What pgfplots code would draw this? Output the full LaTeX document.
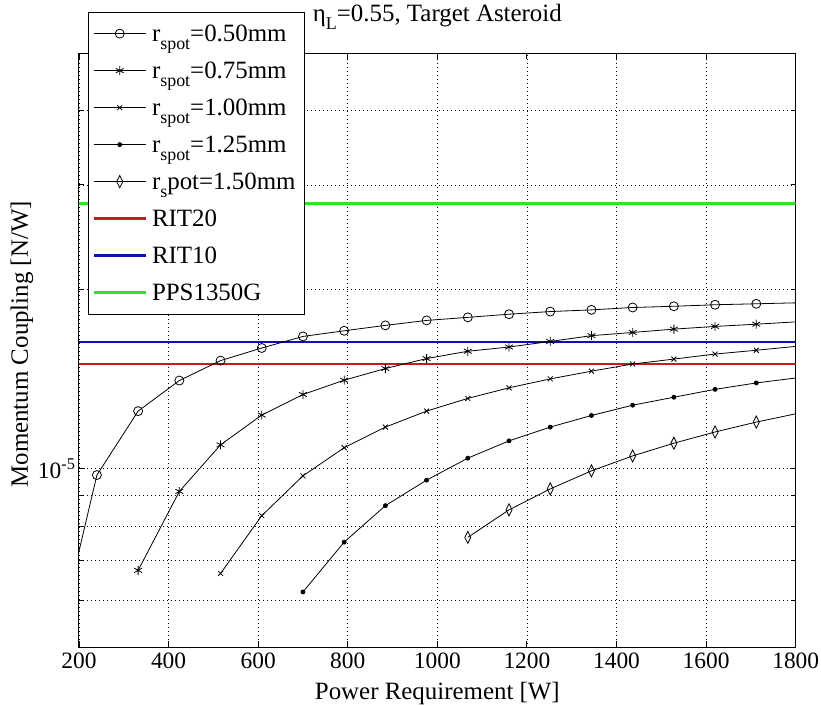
\documentclass[border=0pt]{standalone}
\usepackage{pgfplots}
\pgfplotsset{compat=1.18}
\usepackage{fontspec}
\setmainfont{Liberation Serif}

\definecolor{ritred}{RGB}{195,30,30}
\definecolor{ritblue}{RGB}{15,15,175}
\definecolor{ppsgreen}{RGB}{45,225,45}

% low-set subscript
\newcommand{\sub}[1]{\raisebox{-8bp}{\fontsize{18}{20}\selectfont #1}}

\begin{document}
\begin{tikzpicture}
\path[use as bounding box] (-79bp,-58.6bp) rectangle (742bp,647.4bp);
\begin{axis}[
  scale only axis, width=716.7bp, height=594.4bp,
  xmin=200, xmax=1800,
  ymode=log, ymin=5e-6, ymax=5e-5,
  xtick={200,400,...,1800},
  ytick={1e-5}, yticklabels={10\textsuperscript{-5}},
  minor ytick={6e-6,7e-6,8e-6,9e-6,2e-5,3e-5,4e-5},
  grid=both,
  major grid style={black, line width=0.7bp, dash pattern=on 0.8bp off 3.2bp},
  minor grid style={black, line width=0.7bp, dash pattern=on 0.8bp off 3.2bp},
  axis line style={line width=1bp},
  every tick/.style={black, line width=0.9bp},
  major tick length=6bp, minor tick length=5bp,
  tick align=inside, xtick pos=both, ytick pos=both,
  ticklabel style={font=\fontsize{23.5}{28}\selectfont},
  xticklabel style={yshift=-2bp},
  /pgf/number format/assume math mode=true,
  /pgf/number format/1000 sep={},
  label style={font=\fontsize{25}{30}\selectfont},
  xlabel={Power Requirement [W]},
  ylabel={Momentum Coupling [N/W]},
  xlabel style={at={([yshift=-51.6bp]axis description cs:0.5,0)}, anchor=base},
  ylabel style={at={([xshift=-51bp]axis description cs:0,0.51)}, anchor=base},
  title={η\sub{L}=0.55, Target Asteroid},
  title style={at={([yshift=26bp]axis description cs:0.5,1)}, anchor=base,
    font=\fontsize{25}{30}\selectfont},
  legend style={at={(0.0126,1.0695)}, anchor=north west, draw=black,
    line width=0.8bp, fill=white, font=\fontsize{25}{30}\selectfont,
    inner xsep=4bp, inner ysep=9.5bp, row sep=13bp,
    nodes={inner xsep=5bp, inner ysep=0pt, text height=19.5bp, text depth=4.5bp}},
  legend cell align=left,
  legend image code/.code={\draw[mark repeat=2,mark phase=2,#1]
    plot coordinates {(0bp,0bp) (26bp,0bp) (52bp,0bp)};},
]
% thruster reference levels
\addplot[ritred, line width=2.6bp, forget plot] coordinates {(200,1.50e-5) (1800,1.50e-5)};
\addplot[ritblue, line width=2.6bp, forget plot] coordinates {(200,1.632e-5) (1800,1.632e-5)};
\addplot[ppsgreen, line width=2.6bp, forget plot] coordinates {(200,2.79e-5) (1800,2.79e-5)};

% segments running past the plotted range
\addplot[black, line width=0.8bp, forget plot] coordinates {(148,4.95e-6) (240,9.75e-6)};
\addplot[black, line width=0.8bp, forget plot] coordinates {(1712,1.893e-5) (1800,1.900e-5)};
\addplot[black, line width=0.8bp, forget plot] coordinates {(1712,1.749e-5) (1800,1.765e-5)};
\addplot[black, line width=0.8bp, forget plot] coordinates {(1712,1.581e-5) (1800,1.605e-5)};
\addplot[black, line width=0.8bp, forget plot] coordinates {(1712,1.393e-5) (1800,1.420e-5)};
\addplot[black, line width=0.8bp, forget plot] coordinates {(1712,1.197e-5) (1800,1.236e-5)};

\addplot[black, line width=0.8bp, mark=o, mark size=4.5bp, mark options={fill=white}] coordinates {
 (240,9.75e-6) (332,1.249e-5) (424,1.406e-5) (516,1.519e-5) (608,1.595e-5)
 (700,1.668e-5) (792,1.705e-5) (884,1.741e-5) (976,1.775e-5) (1068,1.796e-5)
 (1160,1.818e-5) (1252,1.837e-5) (1344,1.849e-5) (1436,1.866e-5) (1528,1.875e-5)
 (1620,1.886e-5) (1712,1.893e-5)};
\addlegendentry{r\sub{spot}=0.50mm}

\addplot[black, line width=0.8bp, mark=asterisk, mark size=4.5bp] coordinates {
 (332,6.74e-6) (424,9.15e-6) (516,1.096e-5) (608,1.230e-5) (700,1.332e-5)
 (792,1.408e-5) (884,1.473e-5) (976,1.531e-5) (1068,1.575e-5) (1160,1.601e-5)
 (1252,1.636e-5) (1344,1.673e-5) (1436,1.694e-5) (1528,1.716e-5) (1620,1.734e-5)
 (1712,1.749e-5)};
\addlegendentry{r\sub{spot}=0.75mm}

\addplot[black, line width=0.8bp, mark=x, mark size=3.5bp] coordinates {
 (516,6.66e-6) (608,8.33e-6) (700,9.72e-6) (792,1.084e-5) (884,1.174e-5)
 (976,1.249e-5) (1068,1.312e-5) (1160,1.367e-5) (1252,1.415e-5) (1344,1.458e-5)
 (1436,1.499e-5) (1528,1.528e-5) (1620,1.558e-5) (1712,1.581e-5)};
\addlegendentry{r\sub{spot}=1.00mm}

\addplot[black, line width=0.8bp, mark=*, mark size=2bp] coordinates {
 (700,6.20e-6) (792,7.52e-6) (884,8.66e-6) (976,9.56e-6) (1068,1.041e-5)
 (1160,1.113e-5) (1252,1.174e-5) (1344,1.228e-5) (1436,1.278e-5) (1528,1.318e-5)
 (1620,1.359e-5) (1712,1.393e-5)};
\addlegendentry{r\sub{spot}=1.25mm}

\addplot[black, line width=0.8bp, mark=diamond, mark size=4.5bp,
  mark options={fill=white, xscale=0.9, yscale=1.35}] coordinates {
 (1068,7.66e-6) (1160,8.52e-6) (1252,9.24e-6) (1344,9.91e-6) (1436,1.050e-5)
 (1528,1.103e-5) (1620,1.152e-5) (1712,1.197e-5)};
\addlegendentry{r\sub{s}pot=1.50mm}

\addlegendimage{ritred, line width=2.6bp}
\addlegendentry{RIT20}
\addlegendimage{ritblue, line width=2.6bp}
\addlegendentry{RIT10}
\addlegendimage{ppsgreen, line width=2.6bp}
\addlegendentry{PPS1350G}
\end{axis}
\end{tikzpicture}
\end{document}
